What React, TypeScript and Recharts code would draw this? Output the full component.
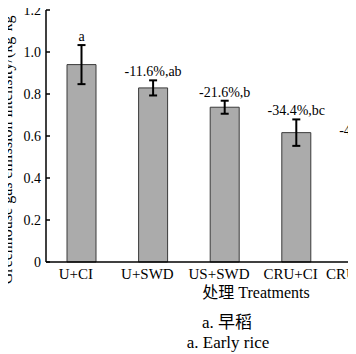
import { Bar, BarChart, ErrorBar, Label, LabelList, XAxis, YAxis } from "recharts";

const treatments = ["U+CI", "U+SWD", "US+SWD", "CRU+CI", "CRU+SWD"];
const intensity = [0.94, 0.829, 0.737, 0.616, 0.554];
const errors = [0.093, 0.036, 0.031, 0.063, 0.03];
const annotations = ["a", "-11.6%,ab", "-21.6%,b", "-34.4%,bc", "-41.1%,bc"];
const yTicks = [0, 0.2, 0.4, 0.6, 0.8, 1.0, 1.2];

const FONT = "'Times New Roman', 'Liberation Serif', 'DejaVu Serif', 'Noto Sans CJK SC', serif";

const data = treatments.map((name, i) => ({
  name,
  value: intensity[i],
  err: errors[i],
}));

// label above each error bar: bar height / value gives the px per unit from the chart's own scale
const renderAnnotation = (props: any) => {
  const { x, y, width, height, index } = props;
  const pxPerUnit = height / intensity[index];
  const top = y - errors[index] * pxPerUnit;
  return (
    <text x={x + width / 2} y={top - 4} textAnchor="middle" fontSize={14} style={{ fontFamily: FONT }} fill="#000">
      {annotations[index]}
    </text>
  );
};

export default function App() {
  return (
    <div
      style={{
        position: "relative",
        width: 356,
        height: 354,
        marginLeft: -8,
        marginTop: -8,
        overflow: "hidden",
        background: "#fff",
        fontFamily: FONT,
      }}
    >
      <BarChart
        width={420}
        height={354}
        data={data}
        margin={{ top: 10, right: 16, left: 10, bottom: 62 }}
        barSize={29}
        style={{ fontFamily: FONT }}
      >
        <XAxis
          dataKey="name"
          height={30}
          tickSize={0}
          tickMargin={6}
          tickLine={false}
          axisLine={{ stroke: "#000", strokeWidth: 1.5 }}
          tick={{ fontSize: 15, fill: "#000", dx: -6, style: { fontFamily: FONT } }}
        >
          <Label
            content={() => (
              <text x={256} y={298} textAnchor="middle" fontSize={16} style={{ fontFamily: FONT }} fill="#000">
                处理 Treatments
              </text>
            )}
          />
        </XAxis>
        <YAxis
          width={36}
          domain={[0, 1.2]}
          ticks={yTicks}
          interval={0}
          tickSize={-4}
          tickMargin={9}
          tickFormatter={(v: number) => (v === 0 ? "0" : v.toFixed(1))}
          axisLine={{ stroke: "#000", strokeWidth: 1.5 }}
          tickLine={{ stroke: "#000", strokeWidth: 1.5 }}
          tick={{ fontSize: 14, fill: "#000", style: { fontFamily: FONT } }}
        >
          <Label
            content={() => (
              <text
                transform="translate(11.5,143) rotate(-90)"
                textAnchor="middle"
                fontSize={16}
                style={{ fontFamily: FONT }}
                fill="#000"
              >
                Greenhouse gas emission intensity/(kg·kg
                <tspan dy={-5} fontSize={10}>
                  -1
                </tspan>
                <tspan dy={5}>)</tspan>
              </text>
            )}
          />
        </YAxis>
        <Bar dataKey="value" fill="#ababab" stroke="#3a3a3a" strokeWidth={1} isAnimationActive={false}>
          <ErrorBar dataKey="err" width={4} strokeWidth={2} stroke="#000" isAnimationActive={false} />
          <LabelList dataKey="value" content={renderAnnotation} />
        </Bar>
      </BarChart>
      <svg
        width={356}
        height={354}
        style={{ position: "absolute", left: 0, top: 0, pointerEvents: "none" }}
      >
        <text x={227} y={328} textAnchor="middle" fontSize={17} style={{ fontFamily: FONT }} fill="#000">
          a.  早稻
        </text>
        <text x={228} y={348} textAnchor="middle" fontSize={17} style={{ fontFamily: FONT }} fill="#000">
          a. Early rice
        </text>
      </svg>
    </div>
  );
}
